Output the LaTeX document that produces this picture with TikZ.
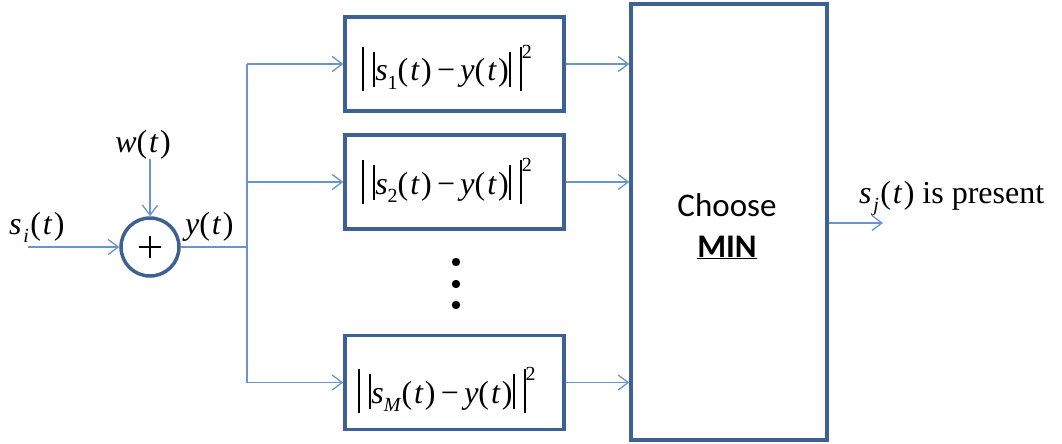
\documentclass[tikz,border=0pt]{standalone}
\usepackage{fontspec}
\setmainfont{Liberation Serif}
\newfontfamily\calibri{Carlito}
\usetikzlibrary{arrows.meta,calc}
\definecolor{linec}{RGB}{105,148,205}
\definecolor{boxc}{RGB}{62,96,146}
\tikzset{
  conn/.style={draw=linec, line width=1.3pt, -{Straight Barb[length=10pt,width=15pt,line width=1.3pt]}},
  plain/.style={draw=linec, line width=1.3pt},
  blk/.style={draw=boxc, line width=3.5pt, rectangle, inner sep=0pt, minimum width=219pt, minimum height=94pt},
  lbl/.style={inner sep=0pt, anchor=base},
  mfont/.style={font=\fontsize{32}{38}\selectfont},
}
\newcommand\iv[1]{\textit{#1}}
\newcommand\sub[1]{\raisebox{-0.26em}{\fontsize{20}{20}\selectfont #1}}
\newcommand\pt[1]{(\hspace{0.06em}\iv{#1}\hspace{0.04em})}
\newcommand\obar{\rule[-0.3em]{0.065em}{1.36em}}
\newcommand\ibar{\rule[-0.18em]{0.065em}{1.1em}}
\newcommand\normexpr[1]{\obar\hspace{0.28em}\ibar\iv{s}\sub{#1}\pt{t}\,−\,\iv{y}\pt{t}\ibar\hspace{0.28em}\obar\raisebox{0.7em}{\fontsize{20}{20}\selectfont 2}}
\begin{document}
\begin{tikzpicture}[x=1pt,y=-1pt,mfont]
\useasboundingbox (0,0) rectangle (1062,444);
% adder
\node[circle, draw=boxc, line width=3.5pt, minimum size=58pt, inner sep=0pt] (sum) at (150,247) {};
\draw[line width=2.6pt] ($(sum.center)+(-11,0)$) -- ($(sum.center)+(11,0)$);
\draw[line width=2.6pt] ($(sum.center)+(0,-11)$) -- ($(sum.center)+(0,11)$);
\coordinate (in) at (28,247);
\coordinate (wtop) at (150,159);
\draw[conn] (in) -- (sum.west);
\draw[conn] (wtop) -- (sum.north);
\node[lbl, anchor=base west] (si) at (9,234) {\iv{s}\hspace{0.05em}\sub{\iv{i}}\hspace{0.05em}\pt{t}};
\node[lbl] (wt) at (143,152) {\iv{w}\pt{t}};
\node[lbl, anchor=base west] (yt) at (185,234) {\iv{y}\pt{t}};
% branch boxes
\node[blk] (box1) at (454.5,64) {};
\node[blk] (box2) at (454.5,182) {};
\node[blk] (boxM) at (454.5,382.5) {};
\node[lbl] (e1) at (447,81) {\normexpr{1}};
\node[lbl] (e2) at (447,194) {\normexpr{2}};
\node[lbl] (eM) at (447,403) {\normexpr{\iv{M}}};
\coordinate (j) at (247,0);
\draw[plain] (sum.east) -- (sum.east -| j);
\draw[plain] (box1.west -| j) -- (boxM.west -| j);
\draw[conn] (box1.west -| j) -- (box1.west);
\draw[conn] (box2.west -| j) -- (box2.west);
\draw[conn] (boxM.west -| j) -- (boxM.west);
% dots
\fill (456,262) circle (4.2);
\fill (456,284) circle (4.2);
\fill (456,305) circle (4.2);
% choose min
\node[draw=boxc, line width=3.5pt, rectangle, inner sep=0pt, minimum width=196pt, minimum height=436pt] (big) at (729,222) {};
\draw[conn] (box1.east) -- (box1.east -| big.west);
\draw[conn] (box2.east) -- (box2.east -| big.west);
\draw[conn] (boxM.east) -- (boxM.east -| big.west);
\node[lbl, font=\calibri\fontsize{33}{40}\selectfont] (choose) at (727,216) {Choose};
\node[lbl, font=\calibri\bfseries\fontsize{33}{40}\selectfont] (min) at (727,257) {\underline{MIN}};
% output
\coordinate (out) at (883,223);
\draw[conn] (big.east |- out) -- (out);
\node[lbl, anchor=base west] (sj) at (859,203) {\iv{s}\hspace{0.05em}\sub{\iv{j}}\hspace{0.05em}\pt{t} is present};
\end{tikzpicture}
\end{document}
